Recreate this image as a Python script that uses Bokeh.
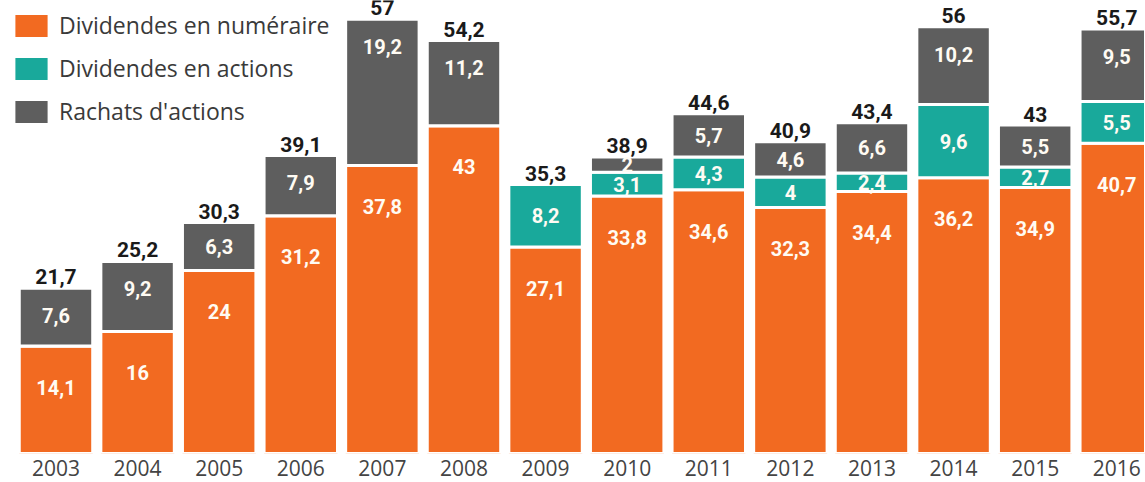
from bokeh.plotting import figure
from bokeh.models import ColumnDataSource, Range1d, FixedTicker, Legend, LegendItem
from bokeh.core.properties import value
from bokeh.embed import file_html
from bokeh.resources import INLINE

years = ["2003", "2004", "2005", "2006", "2007", "2008", "2009",
         "2010", "2011", "2012", "2013", "2014", "2015", "2016"]
cash = [14.1, 16, 24, 31.2, 37.8, 43, 27.1, 33.8, 34.6, 32.3, 34.4, 36.2, 34.9, 40.7]
stock = [0, 0, 0, 0, 0, 0, 8.2, 3.1, 4.3, 4, 2.4, 9.6, 2.7, 5.5]
buyback = [7.6, 9.2, 6.3, 7.9, 19.2, 11.2, 0, 2, 5.7, 4.6, 6.6, 10.2, 5.5, 9.5]
totals = [21.7, 25.2, 30.3, 39.1, 57, 54.2, 35.3, 38.9, 44.6, 40.9, 43.4, 56, 43, 55.7]
series_names = ["Dividendes en numéraire", "Dividendes en actions", "Rachats d'actions"]
colors = ["#F26A21", "#19A99B", "#5E5E5E"]

FONT = "Roboto"
LFONT = "Open Sans"


def fmt(v):
    return f"{v:g}".replace(".", ",")


x = list(range(len(years)))
src = ColumnDataSource(dict(x=x, cash=cash, stock=stock, buyback=buyback))

p = figure(frame_width=1145, frame_height=453,
           x_range=Range1d(-0.680, 13.352), y_range=Range1d(0, 59.45),
           output_backend="svg", toolbar_location=None, min_border=0,
           y_axis_location=None)
p.outline_line_color = None
p.grid.grid_line_color = None
p.background_fill_color = "white"
p.border_fill_color = "white"

rs = p.vbar_stack(["cash", "stock", "buyback"], x="x", width=0.90, source=src,
                  fill_color=colors, line_color="white", line_width=3)

# segment labels
lx, ly, lt = [], [], []
for i in x:
    base = 0.0
    for vals, k in ((cash, 5.4), (stock, None), (buyback, 3.6)):
        v = vals[i]
        if v > 0:
            top = base + v
            if k is None:
                yy = base + v / 2
            else:
                yy = top - min(v / 2, k)
            lx.append(i)
            ly.append(yy)
            lt.append(fmt(v))
        base += v

lab_src = ColumnDataSource(dict(x=lx, y=ly, t=lt))
p.text(x="x", y="y", text="t", source=lab_src, text_align="center",
       text_baseline="middle", text_color="#FFFBF3", text_font=value(FONT),
       text_font_style="bold", text_font_size="20px")

tot_src = ColumnDataSource(dict(x=x, y=totals, t=[fmt(v) for v in totals]))
p.text(x="x", y="y", text="t", source=tot_src, text_align="center",
       text_baseline="bottom", y_offset=-4, text_color="#1a1a1a",
       text_font=value(FONT), text_font_style="bold", text_font_size="21px")

ax = p.xaxis[0]
ax.ticker = FixedTicker(ticks=x)
ax.major_label_overrides = {i: y for i, y in zip(x, years)}
ax.axis_line_color = None
ax.major_tick_line_color = None
ax.minor_tick_line_color = None
ax.major_label_standoff = 0
ax.major_label_text_font = LFONT
ax.major_label_text_font_size = "21px"
ax.major_label_text_color = "#444444"

legend = Legend(items=[LegendItem(label=n, renderers=[r]) for n, r in zip(series_names, rs)],
                location="top_left", glyph_width=44, glyph_height=31, label_height=31,
                spacing=11, padding=0, margin=9, border_line_color=None,
                background_fill_alpha=0, label_text_font=LFONT,
                label_text_font_size="23px", label_text_color="#3a3a3a",
                label_standoff=6)
p.add_layout(legend)

open("out.html", "w").write(file_html(p, INLINE))
